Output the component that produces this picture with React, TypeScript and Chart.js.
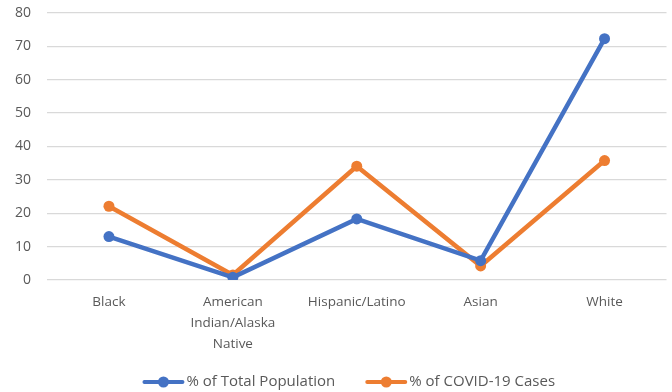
import React, { useEffect, useRef } from "react";
import { Chart, registerables } from "chart.js";

Chart.register(...registerables);

const categories: (string | string[])[] = [
  "Black",
  ["American", "Indian/Alaska", "Native"],
  "Hispanic/Latino",
  "Asian",
  "White",
];
const populationShare = [13, 0.8, 18.3, 5.8, 72.3];
const covidCaseShare = [22.1, 1.5, 34.1, 4.2, 35.8];
const yTicks = [0, 10, 20, 30, 40, 50, 60, 70, 80];

const BLUE = "#4472C4";
const ORANGE = "#ED7D31";
const TEXT = "#595959";
const FONT = "'Open Sans', 'Liberation Sans', sans-serif";

// Legend below the axis: a thick line with a dot, then the series name.
const lineLegend = {
  id: "lineLegend",
  afterDraw(chart: any) {
    const ctx = chart.ctx as CanvasRenderingContext2D;
    const sets = chart.data.datasets;
    const markerW = 42;
    const textGap = 2;
    const itemGap = 30;
    ctx.save();
    ctx.font = `15px ${FONT}`;
    const widths = sets.map((ds: any) => ctx.measureText(ds.label).width);
    const total =
      widths.reduce((a: number, w: number) => a + markerW + textGap + w, 0) +
      itemGap * (sets.length - 1);
    const area = chart.chartArea;
    let x = (area.left + area.right) / 2 - total / 2 - 8;
    const y = chart.height - 10;
    sets.forEach((ds: any, i: number) => {
      ctx.strokeStyle = ds.borderColor;
      ctx.fillStyle = ds.borderColor;
      ctx.lineWidth = 4;
      ctx.lineCap = "round";
      ctx.beginPath();
      ctx.moveTo(x + 2, y);
      ctx.lineTo(x + markerW - 2, y);
      ctx.stroke();
      ctx.beginPath();
      ctx.arc(x + markerW / 2, y, 5.5, 0, Math.PI * 2);
      ctx.fill();
      ctx.fillStyle = TEXT;
      ctx.textAlign = "left";
      ctx.textBaseline = "middle";
      ctx.fillText(ds.label, x + markerW + textGap, y);
      x += markerW + textGap + widths[i] + itemGap;
    });
    ctx.restore();
  },
};

export default function App() {
  const canvasRef = useRef<HTMLCanvasElement | null>(null);

  useEffect(() => {
    if (!canvasRef.current) return;
    const chart = new Chart(canvasRef.current, {
      type: "line",
      data: {
        labels: categories,
        datasets: [
          {
            label: "% of Total Population",
            data: populationShare,
            borderColor: BLUE,
            backgroundColor: BLUE,
            borderWidth: 4.5,
            pointRadius: 5.5,
            pointHoverRadius: 5.5,
            pointBorderWidth: 0,
            pointStyle: "circle",
            tension: 0,
          },
          {
            label: "% of COVID-19 Cases",
            data: covidCaseShare,
            borderColor: ORANGE,
            backgroundColor: ORANGE,
            borderWidth: 4.5,
            pointRadius: 5.5,
            pointHoverRadius: 5.5,
            pointBorderWidth: 0,
            pointStyle: "circle",
            tension: 0,
          },
        ],
      },
      options: {
        responsive: false,
        animation: false,
        layout: { padding: { top: 13, left: 0, right: 0, bottom: 32 } },
        scales: {
          x: {
            offset: true,
            grid: { display: false, drawTicks: false },
            border: { display: false },
            ticks: {
              color: TEXT,
              font: { family: FONT, size: 13.5, lineHeight: 1.55 },
              maxRotation: 0,
              autoSkip: false,
              padding: 12,
            },
            afterFit: (scale: any) => {
              scale.height = 80;
              scale.paddingLeft = 0;
              scale.paddingRight = 0;
            },
          },
          y: {
            min: 0,
            max: 80,
            afterBuildTicks: (scale: any) => {
              scale.ticks = yTicks.map((v) => ({ value: v }));
            },
            grid: { color: "#D9D9D9", lineWidth: 1.3, drawTicks: false },
            border: { display: false },
            ticks: {
              color: TEXT,
              font: { family: FONT, size: 14 },
              padding: 16,
            },
            afterFit: (scale: any) => {
              scale.width = 47;
              scale.paddingTop = 0;
              scale.paddingBottom = 0;
            },
          },
        },
        plugins: {
          legend: { display: false },
          tooltip: { enabled: false },
        },
      },
      plugins: [lineLegend],
    } as any);
    return () => chart.destroy();
  }, []);

  return (
    <div style={{ position: "fixed", left: 0, top: 0, width: 672, height: 392, background: "#fff" }}>
      <canvas ref={canvasRef} width={672} height={392} />
    </div>
  );
}
